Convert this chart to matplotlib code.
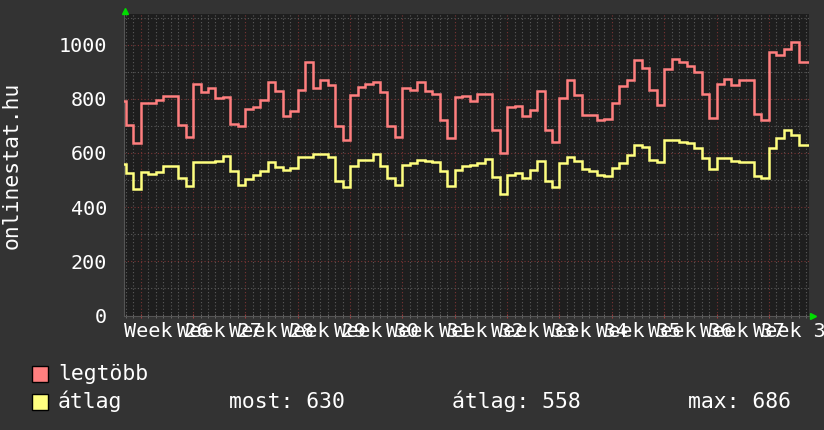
import numpy as np
import matplotlib
matplotlib.use("Agg")
import matplotlib.pyplot as plt
from matplotlib.patches import Rectangle

# ---- data (daily values, first value belongs to day -3 relative to first week tick)
first_day = -3
legtobb = [793, 702, 637, 783, 783, 794, 809, 809, 705, 658,
           856, 825, 839, 802, 806, 708, 698, 764, 769, 794,
           861, 828, 735, 754, 831, 935, 840, 871, 850, 698,
           647, 815, 844, 855, 861, 825, 701, 658, 838, 834,
           861, 828, 818, 722, 654, 807, 809, 791, 818, 818,
           685, 599, 769, 774, 735, 760, 828, 686, 639, 803,
           868, 815, 742, 742, 721, 727, 785, 849, 868, 942,
           914, 834, 778, 911, 948, 935, 920, 900, 818, 728,
           855, 872, 852, 871, 871, 745, 723, 972, 961, 985,
           1009, 935, 935]
atlag = [560, 526, 468, 529, 524, 529, 551, 551, 506, 477,
         568, 566, 568, 569, 590, 532, 482, 504, 518, 532,
         567, 548, 536, 543, 584, 584, 596, 598, 586, 498,
         474, 553, 575, 573, 598, 553, 508, 482, 557, 562,
         575, 572, 566, 532, 477, 538, 551, 554, 562, 578,
         512, 449, 520, 525, 508, 536, 572, 498, 473, 564,
         584, 572, 541, 532, 518, 514, 545, 564, 591, 631,
         622, 575, 567, 649, 647, 639, 636, 618, 582, 541,
         580, 580, 569, 568, 566, 514, 506, 618, 655, 686,
         668, 630, 630]
week_labels = ["Week 26", "Week 27", "Week 28", "Week 29", "Week 30",
               "Week 31", "Week 32", "Week 33", "Week 34", "Week 35",
               "Week 36", "Week 37", "Week 38"]
y_major = [0, 200, 400, 600, 800, 1000]
series_names = ["legtöbb", "átlag"]
stats_labels = ["most: 630", "átlag: 558", "max: 686"]

RED = "#ff7f7f"
YEL = "#ffff7f"
BG = "#333333"
CANVAS = "#1e1e1e"
MONO = "DejaVu Sans Mono"

W, H = 824, 430
fig = plt.figure(figsize=(W / 100, H / 100), dpi=100, facecolor=BG)
left, right, top, bottom = 124, 808.5, 14, 315.5
ax = fig.add_axes([left / W, 1 - bottom / H, (right - left) / W, (bottom - top) / H])
ax.set_facecolor(CANVAS)

n = len(legtobb)
edges = np.arange(first_day, first_day + n + 1)
ax.set_xlim(-2.23, 89.3)
ax.set_ylim(0, 1113)

# grid
dot = (0, (1, 2))
ax.set_xticks(np.arange(0, 85, 7))
ax.set_xticks(np.arange(-2, 90), minor=True)
ax.set_yticks(y_major)
ax.set_yticks(np.arange(100, 1101, 100), minor=True)
ax.grid(which="minor", color="#5a5a5a", linestyle=dot, linewidth=0.8)
ax.grid(which="major", color="#7a3434", linestyle=dot, linewidth=0.8)
ax.set_axisbelow(True)

ax.stairs(legtobb, edges, baseline=None, color=RED, linewidth=1.8, zorder=3)
ax.stairs(atlag, edges, baseline=None, color=YEL, linewidth=1.8, zorder=3)

# ticks / labels
ax.set_xticklabels([])
ax.set_yticklabels([str(v) for v in y_major], fontfamily=MONO, fontsize=14.5, color="white")
ax.tick_params(axis="y", which="both", length=0, pad=12)
ax.tick_params(axis="x", which="major", length=3, color="#a04040", direction="inout")
ax.tick_params(axis="x", which="minor", length=3, color="#707070", direction="inout")
for s in ["top", "right"]:
    ax.spines[s].set_visible(False)
for s in ["left", "bottom"]:
    ax.spines[s].set_color("#555555")
    ax.spines[s].set_linewidth(0.8)

centers = np.arange(len(week_labels)) * 7 + 3.5
trans = ax.get_xaxis_transform()
for c, lab in zip(centers, week_labels):
    ax.text(c, -0.02, lab, transform=trans, ha="center", va="top",
            fontfamily=MONO, fontsize=14.5, color="white", clip_on=False)

# arrows
fig.lines.append(plt.Line2D([125 / W], [1 - 10.5 / H], marker="^", markersize=5,
                            color="#00dd00", transform=fig.transFigure))
fig.lines.append(plt.Line2D([813 / W], [1 - 315.5 / H], marker=">", markersize=5,
                            color="#00dd00", transform=fig.transFigure))

# y label
fig.text(12 / W, 1 - 165 / H, "onlinestat.hu", rotation=90, ha="center", va="center",
         fontfamily=MONO, fontsize=15.4, color="white")

# legend
for i, (name, col) in enumerate(zip(series_names, [RED, YEL])):
    yc = 373.5 + i * 28
    fig.patches.append(Rectangle((32 / W, 1 - (yc + 8) / H), 16 / W, 16 / H,
                                 transform=fig.transFigure, facecolor=col,
                                 edgecolor="black", linewidth=1))
    fig.text(58 / W, 1 - yc / H, name, ha="left", va="center",
             fontfamily=MONO, fontsize=15.4, color="white")
for x0, lab in zip([229, 452, 688], stats_labels):
    fig.text(x0 / W, 1 - 401.5 / H, lab, ha="left", va="center",
             fontfamily=MONO, fontsize=15.4, color="white")

fig.savefig("out.png", dpi=100, facecolor=BG)
